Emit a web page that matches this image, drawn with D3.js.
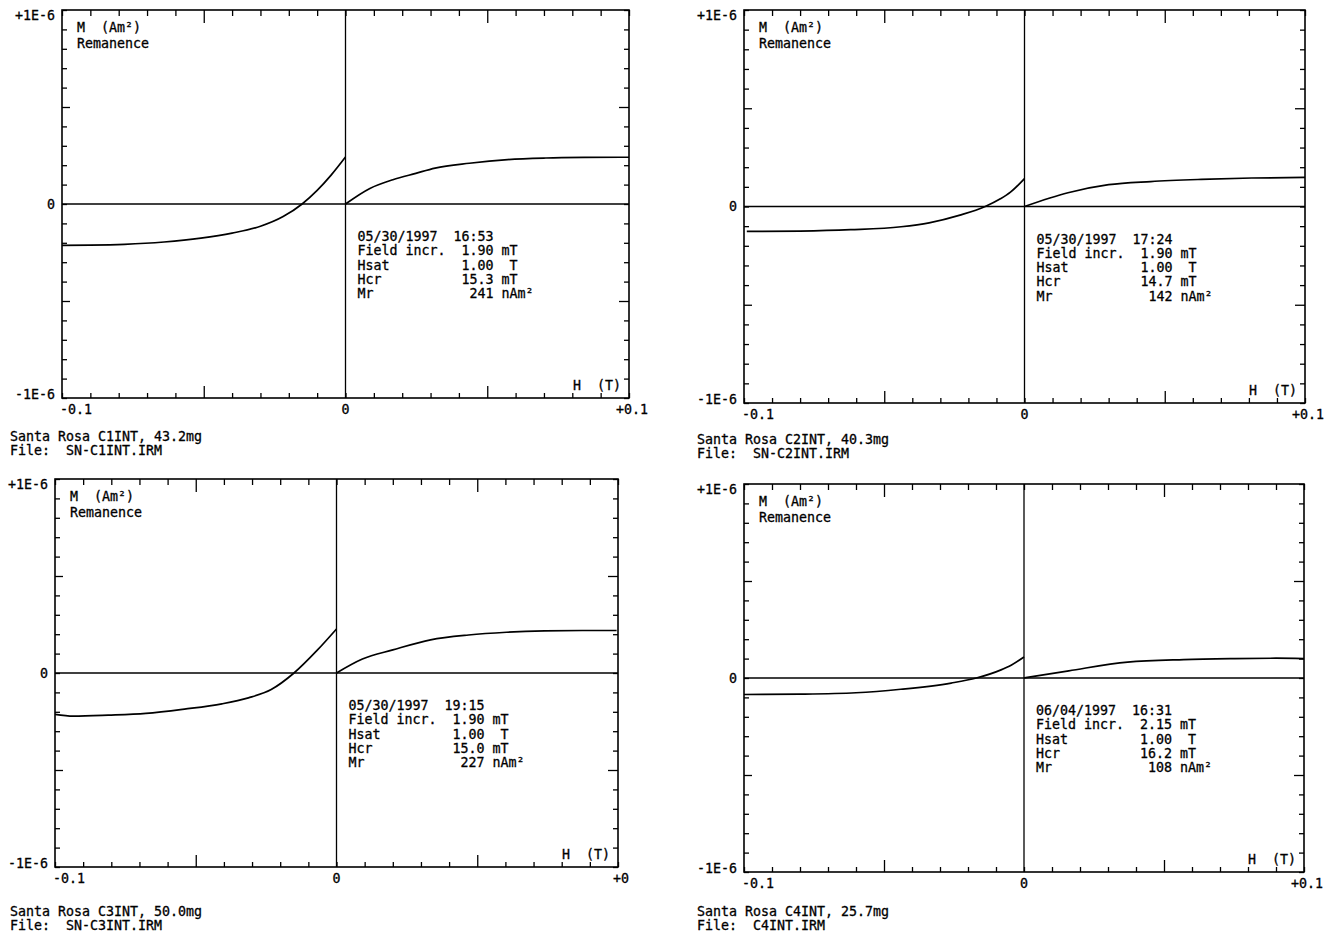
<!DOCTYPE html>
<html><head><meta charset="utf-8">
<script src="https://cdn.jsdelivr.net/npm/d3@7"></script>
<style>
body{margin:0;background:#fff}
text{font-family:"DejaVu Sans Mono","Liberation Mono",monospace;font-size:13.3px;fill:#000;stroke:#000;stroke-width:0.3;white-space:pre}
</style>
</head><body>
<svg id="c" width="1335" height="934"></svg>
<script>
// ---------- data ----------
const xTickLabelsStd = ["-0.1", "0", "+0.1"];
const xTickLabelsC3 = ["-0.1", "0", "+0"];
const yTickLabels = ["+1E-6", "0", "-1E-6"];
const fieldTicks = d3.range(-10, 11).map(i => i / 100);      // T
const momentTicks = d3.range(-10, 11).map(i => i * 100);     // nAm^2

// backfield (negative field) branch and acquisition branch, [H (T), M (nAm^2)]
const c1Back = [[-0.1,-213],[-0.09,-212],[-0.078,-208],[-0.064,-196],[-0.051,-176],[-0.04,-150],[-0.03,-115],[-0.022,-65],[-0.0153,0],[-0.01,70],[-0.005,150],[0,242]];
const c1Acq  = [[0,0],[0.0086,80],[0.0167,125],[0.0248,158],[0.0316,185],[0.0437,210],[0.0572,229],[0.0707,237],[0.0842,240],[0.1,241]];

const c2Back = [[-0.099,-127],[-0.08,-125],[-0.062,-118],[-0.044,-103],[-0.034,-83],[-0.023,-44],[-0.014,0],[-0.0086,39],[-0.005,73],[0,142]];
const c2Acq  = [[0,0],[0.0155,70],[0.03,111],[0.045,127],[0.063,138],[0.081,145],[0.1,148]];

const c3Back = [[-0.1,-213],[-0.0935,-222],[-0.0811,-217],[-0.0677,-208],[-0.054,-186],[-0.0407,-159],[-0.0313,-128],[-0.0232,-85],[-0.0151,0],[-0.007,115],[0,227]];
const c3Acq  = [[0,0],[0.0092,72],[0.02,119],[0.0334,171],[0.0469,196],[0.0604,210],[0.0739,217],[0.0873,219],[0.0995,219]];

const c4Back = [[-0.1,-85],[-0.08,-83],[-0.06,-76],[-0.044,-58],[-0.026,-26],[-0.017,0],[-0.0082,42],[-0.0046,66],[0,108]];
const c4Acq  = [[0,0],[0.016,37],[0.037,82],[0.057,95],[0.075,100],[0.09,102],[0.1,100]];

const sampleNames = ["Santa Rosa C1INT, 43.2mg","Santa Rosa C2INT, 40.3mg","Santa Rosa C3INT, 50.0mg","Santa Rosa C4INT, 25.7mg"];
const fileNames   = ["SN-C1INT.IRM","SN-C2INT.IRM","SN-C3INT.IRM","C4INT.IRM"];
const measDates   = ["05/30/1997","05/30/1997","05/30/1997","06/04/1997"];
const measTimes   = ["16:53","17:24","19:15","16:31"];
const fieldIncr   = ["1.90","1.90","1.90","2.15"];
const hsatVals    = ["1.00","1.00","1.00","1.00"];
const hcrVals     = ["15.3","14.7","15.0","16.2"];
const mrVals      = ["241","142","227","108"];

// ---------- layout ----------
const boxes = [
  {l:62,  r:629,  t:10,  b:398, cx:10,  cy:441},
  {l:744, r:1305, t:10,  b:403, cx:697, cy:444},
  {l:55,  r:618,  t:479, b:867, cx:10,  cy:916},
  {l:744, r:1304, t:484, b:872, cx:697, cy:916}
];
const backs = [c1Back, c2Back, c3Back, c4Back];
const acqs  = [c1Acq, c2Acq, c3Acq, c4Acq];
const xLabs = [xTickLabelsStd, xTickLabelsStd, xTickLabelsC3, xTickLabelsStd];

const svg = d3.select("#c");

function pad(s, n){ return s.length >= n ? s : " ".repeat(n - s.length) + s; }

boxes.forEach((bx, i) => {
  const g = svg.append("g");
  const x = d3.scaleLinear().domain([-0.1, 0.1]).range([bx.l, bx.r]);
  const y = d3.scaleLinear().domain([-1000, 1000]).range([bx.b, bx.t]);

  const isMajX = d => Math.abs(Math.round(d * 100)) === 5;
  const isMajY = d => Math.abs(Math.round(d)) === 500;

  g.append("g").attr("transform", `translate(0,${bx.t})`)
    .call(d3.axisBottom(x).tickValues(fieldTicks).tickSize(6).tickFormat(""))
    .call(a => a.select(".domain").remove())
    .call(a => a.selectAll(".tick line").attr("y2", d => isMajX(d) ? 13 : 6));
  g.append("g").attr("transform", `translate(0,${bx.b})`)
    .call(d3.axisTop(x).tickValues(fieldTicks).tickSize(5).tickFormat(""))
    .call(a => a.select(".domain").remove())
    .call(a => a.selectAll(".tick line").attr("y2", d => isMajX(d) ? -12 : -5));
  g.append("g").attr("transform", `translate(${bx.l},0)`)
    .call(d3.axisRight(y).tickValues(momentTicks).tickSize(5).tickFormat(""))
    .call(a => a.select(".domain").remove())
    .call(a => a.selectAll(".tick line").attr("x2", d => isMajY(d) ? 8 : 5));
  g.append("g").attr("transform", `translate(${bx.r},0)`)
    .call(d3.axisLeft(y).tickValues(momentTicks).tickSize(5).tickFormat(""))
    .call(a => a.select(".domain").remove())
    .call(a => a.selectAll(".tick line").attr("x2", d => isMajY(d) ? -10 : -5));
  g.selectAll(".tick line").attr("stroke", "#000").attr("stroke-width", 1.3);

  g.append("rect").attr("x", x(-0.1)).attr("y", y(1000))
    .attr("width", x(0.1) - x(-0.1)).attr("height", y(-1000) - y(1000))
    .attr("fill", "none").attr("stroke", "#000").attr("stroke-width", 1.6);
  g.append("line").attr("x1", x(-0.1)).attr("x2", x(0.1)).attr("y1", y(0)).attr("y2", y(0))
    .attr("stroke", "#000").attr("stroke-width", 1.3);
  g.append("line").attr("x1", x(0)).attr("x2", x(0)).attr("y1", y(1000)).attr("y2", y(-1000))
    .attr("stroke", "#000").attr("stroke-width", 1.3);

  const line = d3.line().x(d => x(d[0])).y(d => y(d[1])).curve(d3.curveMonotoneX);
  [backs[i], acqs[i]].forEach(data => {
    g.append("path").attr("d", line(data)).attr("fill", "none")
      .attr("stroke", "#000").attr("stroke-width", 1.7);
  });

  [[1000, yTickLabels[0], 5], [0, yTickLabels[1], 0], [-1000, yTickLabels[2], -4]].forEach(([v, t, off]) => {
    g.append("text").attr("x", bx.l - 7).attr("y", y(v) + off).attr("dy", "0.35em")
      .attr("text-anchor", "end").text(t);
  });
  const xl = xLabs[i];
  g.append("text").attr("x", x(-0.1) - 2).attr("y", bx.b + 16).attr("text-anchor", "start").text(xl[0]);
  g.append("text").attr("x", x(0)).attr("y", bx.b + 16).attr("text-anchor", "middle").text(xl[1]);
  g.append("text").attr("x", x(0.1) + 3).attr("y", bx.b + 16).attr("text-anchor", "middle").text(xl[2]);

  g.append("text").attr("x", bx.l + 15).attr("y", bx.t + 22).text("M  (Am²)");
  g.append("text").attr("x", bx.l + 15).attr("y", bx.t + 38).text("Remanence");
  g.append("text").attr("x", bx.r - 56).attr("y", bx.b - 8).text("H  (T)");

  const lines = [
    measDates[i] + "  " + measTimes[i],
    "Field incr.  " + fieldIncr[i] + " mT",
    "Hsat         " + hsatVals[i] + "  T",
    "Hcr          " + hcrVals[i] + " mT",
    "Mr           " + pad(mrVals[i], 4) + " nAm²"
  ];
  lines.forEach((t, k) => {
    g.append("text").attr("x", x(0) + 12).attr("y", y(0) + 37 + k * 14.3).text(t);
  });

  g.append("text").attr("x", bx.cx).attr("y", bx.cy).text(sampleNames[i]);
  g.append("text").attr("x", bx.cx).attr("y", bx.cy + 14).text("File:  " + fileNames[i]);
});
</script>
</body></html>
